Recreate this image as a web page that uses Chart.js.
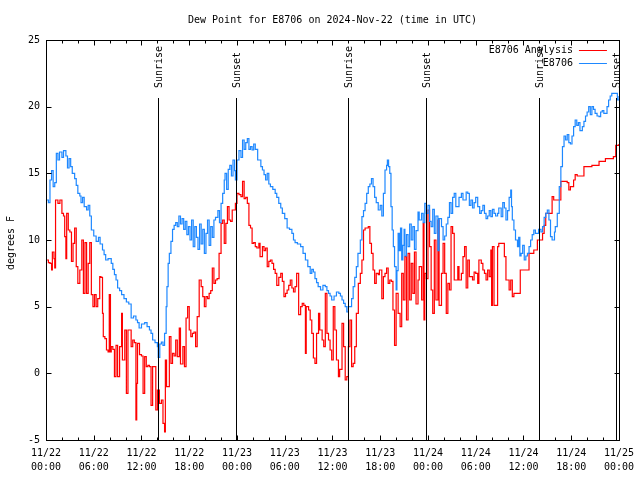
<!DOCTYPE html>
<html>
<head>
<meta charset="utf-8">
<title>Dew Point for E8706</title>
<script src="https://cdn.jsdelivr.net/npm/chart.js@4.4.1/dist/chart.umd.min.js"></script>
<style>
  body { margin: 0; background: #fff; }
  canvas { display: block; }
</style>
</head>
<body>
<canvas id="dewChart" width="640" height="480"></canvas>
<script>
const chartTitle = 'Dew Point for E8706 on 2024-Nov-22 (time in UTC)';
const yAxisTitle = 'degrees F';

// x values are hours since 11/22 00:00 UTC
const tickDates = ['11/22', '11/22', '11/22', '11/22', '11/23', '11/23', '11/23', '11/23', '11/24', '11/24', '11/24', '11/24', '11/25'];
const tickTimes = ['00:00', '06:00', '12:00', '18:00', '00:00', '06:00', '12:00', '18:00', '00:00', '06:00', '12:00', '18:00', '00:00'];

const sunHours = [14.04, 23.83, 38.0, 47.75, 62.0, 71.65];
const sunLabels = ['Sunrise', 'Sunset', 'Sunrise', 'Sunset', 'Sunrise', 'Sunset'];

const seriesLabels = ['E8706 Analysis', 'E8706'];
const seriesColors = ['#ff0000', '#1e88ff'];

const analysisHours = [
  0, 0.3, 0.5, 0.7, 0.8, 1.0, 1.1, 1.2, 1.5, 1.75, 2.0, 2.2, 2.35, 2.5, 2.6, 2.8, 3.0, 3.2, 3.4, 3.6,
  3.8, 4.0, 4.25, 4.5, 4.7, 4.9, 5.1, 5.3, 5.5, 5.7, 5.9, 6.1, 6.3, 6.5, 6.75, 6.9, 7.1, 7.2, 7.4, 7.6,
  7.8, 7.95, 8.1, 8.2, 8.4, 8.6, 8.8, 9.0, 9.25, 9.5, 9.6, 9.9, 10.1, 10.3, 10.5, 10.7, 10.9, 11.1, 11.3, 11.4,
  11.5, 11.75, 12.0, 12.2, 12.4, 12.6, 12.8, 13.0, 13.2, 13.4, 13.6, 13.8, 14.0, 14.25, 14.5, 14.7, 14.9, 15.0, 15.15, 15.3,
  15.5, 15.7, 15.9, 16.1, 16.3, 16.5, 16.75, 16.9, 17.2, 17.4, 17.6, 17.8, 18.0, 18.2, 18.4, 18.6, 18.8, 19.0, 19.25, 19.5,
  19.7, 19.9, 20.1, 20.3, 20.5, 20.7, 20.9, 21.1, 21.3, 21.5, 21.75, 22.0, 22.2, 22.4, 22.6, 22.8, 23.0, 23.2, 23.4, 23.6,
  23.8, 24.0, 24.25, 24.5, 24.7, 24.9, 25.1, 25.3, 25.5, 25.7, 25.9, 26.1, 26.3, 26.5, 26.75, 26.9, 27.2, 27.4, 27.6, 27.8,
  28.0, 28.2, 28.4, 28.6, 28.8, 29.0, 29.25, 29.5, 29.7, 29.9, 30.1, 30.3, 30.5, 30.7, 30.9, 31.1, 31.3, 31.5, 31.75, 32.0,
  32.2, 32.4, 32.6, 32.7, 33.0, 33.2, 33.4, 33.6, 33.8, 34.0, 34.25, 34.4, 34.7, 34.9, 35.1, 35.3, 35.5, 35.7, 35.9, 36.1,
  36.3, 36.5, 36.75, 36.9, 37.2, 37.4, 37.6, 37.8, 38.0, 38.2, 38.4, 38.6, 38.8, 39.0, 39.25, 39.5, 39.7, 39.9, 40.1, 40.3,
  40.5, 40.7, 40.9, 41.1, 41.3, 41.5, 41.75, 41.9, 42.2, 42.4, 42.6, 42.8, 43.0, 43.2, 43.4, 43.6, 43.8, 44.0, 44.25, 44.5,
  44.7, 44.9, 45.1, 45.3, 45.5, 45.7, 45.9, 46.1, 46.3, 46.5, 46.75, 46.9, 47.2, 47.4, 47.5, 47.6, 47.8, 48.0, 48.2, 48.4,
  48.6, 48.8, 49.0, 49.25, 49.4, 49.7, 49.9, 50.1, 50.3, 50.5, 50.7, 50.9, 51.1, 51.3, 51.5, 51.75, 51.9, 52.2, 52.4, 52.6,
  52.8, 53.0, 53.2, 53.4, 53.6, 53.8, 54.0, 54.25, 54.4, 54.7, 54.9, 55.1, 55.3, 55.5, 55.7, 55.9, 56.0, 56.1, 56.3, 56.5,
  56.75, 56.9, 57.4, 57.6, 57.8, 58.0, 58.2, 58.4, 58.6, 58.8, 59.25, 59.6, 60.1, 60.5, 60.7, 61.3, 61.75, 62.2, 62.4, 62.6,
  62.8, 63.2, 63.6, 63.8, 64.5, 64.7, 65.1, 65.5, 65.7, 65.9, 66.3, 66.5, 66.75, 67.4, 67.6, 68.6, 69.5, 70.3, 71.3, 71.6,
  72.0
];
const analysisValues = [
  8.5, 8.3, 8.25, 7.75, 9.1, 8.6, 7.9, 13.0, 12.75, 13.0, 12.0, 11.8, 10.25, 8.6, 12.0, 10.75, 10.6, 8.4, 9.75, 10.9,
  8.0, 6.75, 7.75, 10.0, 6.0, 9.8, 6.0, 8.25, 9.8, 5.9, 5.0, 5.9, 5.0, 5.6, 7.25, 7.2, 4.5, 2.75, 2.6, 1.75,
  1.6, 5.9, 1.6, 2.0, 1.8, -0.25, 2.1, -0.25, 2.0, 4.5, 1.0, 3.25, -1.5, 3.25, 3.25, 2.0, 2.5, 2.3, -3.5, -0.75,
  2.25, 1.4, 1.3, -1.5, 1.25, 0.5, 0.6, 0.5, -2.4, 0.5, 0.5, -2.75, -1.25, -2.25, -2.0, -3.75, -4.4, 1.0, -1.0, -1.0,
  2.75, 0.75, 1.5, 1.3, 2.5, 1.25, 3.4, 0.7, 2.0, 0.5, 4.15, 5.0, 3.25, 2.75, 3.0, 3.1, 2.0, 4.25, 7.0, 6.5,
  5.75, 5.0, 5.75, 5.6, 6.0, 6.2, 7.9, 6.75, 7.0, 7.1, 9.0, 11.25, 11.5, 9.75, 11.25, 12.5, 11.5, 11.4, 12.25, 12.25,
  12.75, 13.5, 13.4, 13.25, 14.4, 13.1, 13.2, 12.75, 11.1, 10.9, 9.75, 9.8, 9.5, 9.4, 9.75, 8.75, 9.5, 9.2, 9.4, 8.0,
  8.4, 8.5, 8.25, 7.8, 7.5, 6.6, 7.2, 7.5, 6.9, 5.75, 6.0, 6.25, 6.6, 7.0, 6.4, 6.1, 6.5, 7.5, 4.4, 5.0,
  5.25, 5.1, 1.5, 5.0, 4.75, 4.0, 3.0, 1.15, 0.75, 3.0, 4.5, 3.25, 2.5, 2.0, 6.0, 3.0, 2.5, 1.75, 1.0, 5.0,
  3.25, 1.0, -0.25, 0.3, 3.75, 2.0, -0.5, -0.25, 2.0, 4.0, 0.5, 0.75, 2.0, 4.5, 6.75, 7.5, 8.5, 10.75, 10.9, 10.9,
  11.0, 9.75, 9.0, 7.75, 6.75, 7.5, 7.4, 7.75, 5.6, 7.25, 7.5, 7.9, 6.75, 7.0, 6.9, 4.75, 2.1, 6.0, 4.5, 3.5,
  7.5, 5.5, 8.75, 4.0, 9.0, 5.5, 8.25, 6.0, 9.1, 5.2, 7.0, 8.0, 5.5, 11.25, 4.0, 7.5, 7.1, 12.25, 9.5, 6.25,
  4.5, 10.0, 5.5, 11.5, 5.1, 7.5, 9.75, 7.5, 4.5, 6.75, 6.25, 11.0, 10.5, 7.0, 7.0, 8.0, 7.0, 7.5, 8.75, 9.5,
  6.4, 8.5, 7.25, 7.25, 7.0, 7.6, 7.5, 6.75, 8.5, 8.25, 7.75, 7.5, 7.0, 7.75, 7.25, 9.25, 5.1, 9.5, 5.1, 5.1,
  9.5, 9.75, 9.75, 8.75, 7.0, 7.0, 6.25, 7.0, 5.75, 6.0, 6.0, 7.75, 7.75, 7.75, 9.0, 9.25, 10.0, 10.0, 10.5, 11.1,
  12.0, 12.0, 13.25, 13.0, 13.0, 14.4, 14.4, 14.3, 13.75, 14.0, 14.5, 14.9, 14.8, 14.8, 15.5, 15.6, 15.9, 16.1, 16.25, 17.1,
  17.2
];

const stationHours = [
  0, 0.3, 0.5, 0.7, 0.9, 1.1, 1.3, 1.5, 1.7, 2.0, 2.2, 2.5, 2.7, 2.9, 3.1, 3.3, 3.6, 3.8, 4.0, 4.25,
  4.4, 4.6, 4.8, 5.1, 5.3, 5.5, 5.7, 6.0, 6.3, 6.6, 6.8, 7.1, 7.3, 7.5, 7.8, 8.2, 8.4, 8.6, 8.8, 9.0,
  9.25, 9.5, 9.8, 10.1, 10.4, 10.7, 11.0, 11.3, 11.5, 11.7, 12.0, 12.4, 12.7, 13.0, 13.2, 13.4, 13.7, 14.0, 14.1, 14.3,
  14.5, 14.7, 14.9, 15.1, 15.2, 15.35, 15.5, 15.7, 15.9, 16.1, 16.3, 16.5, 16.7, 16.9, 17.1, 17.3, 17.5, 17.7, 17.9, 18.1,
  18.3, 18.5, 18.7, 18.9, 19.1, 19.3, 19.5, 19.7, 19.9, 20.1, 20.3, 20.5, 20.7, 20.9, 21.1, 21.3, 21.6, 21.8, 22.0, 22.2,
  22.4, 22.5, 22.7, 22.9, 23.1, 23.3, 23.5, 23.7, 23.8, 24.0, 24.25, 24.5, 24.7, 24.9, 25.1, 25.3, 25.5, 25.7, 25.9, 26.1,
  26.3, 26.6, 26.75, 27.0, 27.2, 27.4, 27.6, 27.8, 28.0, 28.2, 28.5, 28.8, 29.0, 29.25, 29.5, 29.7, 30.0, 30.3, 30.6, 30.9,
  31.1, 31.3, 31.6, 32.0, 32.3, 32.6, 32.9, 33.2, 33.4, 33.6, 33.8, 34.0, 34.2, 34.5, 34.8, 35.1, 35.3, 35.5, 35.7, 35.9,
  36.2, 36.5, 36.8, 37.0, 37.2, 37.4, 37.6, 37.8, 38.0, 38.2, 38.4, 38.6, 38.8, 39.0, 39.2, 39.5, 39.7, 39.9, 40.1, 40.3,
  40.5, 40.7, 40.9, 41.1, 41.3, 41.5, 41.75, 42.0, 42.2, 42.4, 42.6, 42.8, 42.9, 43.05, 43.2, 43.35, 43.5, 43.65, 43.8, 44.0,
  44.1, 44.25, 44.4, 44.55, 44.7, 44.85, 45.0, 45.1, 45.3, 45.5, 45.7, 45.9, 46.1, 46.3, 46.5, 46.75, 46.9, 47.2, 47.4, 47.6,
  47.8, 48.0, 48.2, 48.4, 48.6, 48.8, 49.0, 49.25, 49.4, 49.7, 49.9, 50.1, 50.3, 50.5, 50.7, 50.9, 51.1, 51.3, 51.5, 51.75,
  51.9, 52.2, 52.4, 52.6, 52.8, 53.0, 53.2, 53.4, 53.6, 53.8, 54.0, 54.25, 54.5, 54.7, 54.9, 55.1, 55.3, 55.5, 55.7, 55.9,
  56.1, 56.3, 56.5, 56.75, 56.9, 57.2, 57.4, 57.6, 57.8, 58.0, 58.2, 58.4, 58.5, 58.6, 58.8, 59.0, 59.25, 59.4, 59.55, 59.7,
  59.9, 60.1, 60.3, 60.5, 60.7, 60.9, 61.1, 61.3, 61.5, 61.75, 61.9, 62.2, 62.4, 62.6, 62.8, 63.0, 63.2, 63.4, 63.6, 63.75,
  63.9, 64.0, 64.25, 64.5, 64.7, 64.9, 65.1, 65.3, 65.5, 65.7, 65.9, 66.1, 66.3, 66.5, 66.7, 66.9, 67.1, 67.4, 67.6, 67.8,
  68.0, 68.2, 68.4, 68.6, 68.8, 69.0, 69.25, 69.5, 69.7, 69.9, 70.1, 70.3, 70.5, 70.7, 70.9, 71.1, 71.3, 71.5, 71.8, 72.0
];
const stationValues = [
  13.0, 12.8, 14.5, 15.2, 14.0, 14.3, 16.5, 16.0, 16.6, 16.2, 16.7, 16.3, 15.4, 16.1, 15.5, 15.0, 14.6, 14.1, 13.5, 13.3,
  12.8, 13.2, 12.5, 12.25, 12.6, 11.8, 10.75, 10.3, 9.9, 10.2, 9.7, 9.25, 8.9, 8.5, 8.6, 8.25, 7.8, 7.4, 7.0, 6.4,
  6.2, 5.9, 5.6, 5.35, 5.2, 4.15, 4.3, 4.0, 3.8, 3.4, 3.7, 3.8, 3.5, 3.25, 3.0, 2.5, 2.3, 2.0, 1.2, 2.2,
  2.35, 2.1, 3.0, 5.0, 6.5, 8.25, 9.0, 9.9, 10.8, 11.1, 11.3, 11.0, 11.8, 11.2, 11.6, 10.8, 11.4, 10.4, 11.0, 10.0,
  11.5, 9.5, 11.0, 10.2, 9.3, 11.2, 9.7, 10.8, 9.0, 10.5, 11.5, 9.6, 11.0, 10.2, 11.5, 11.7, 12.2, 11.3, 12.75, 13.5,
  14.5, 15.0, 13.8, 15.3, 15.6, 14.8, 16.0, 15.2, 14.5, 16.0, 16.7, 16.2, 17.5, 16.8, 17.3, 17.6, 16.8, 17.0, 16.75, 17.2,
  16.8, 16.0, 16.0, 15.5, 15.25, 14.9, 14.5, 15.0, 14.2, 14.0, 13.8, 13.5, 13.2, 12.75, 12.4, 12.0, 11.6, 10.9, 10.8, 10.5,
  10.0, 9.8, 9.7, 9.5, 9.0, 8.5, 8.0, 7.5, 7.8, 7.6, 7.1, 6.8, 6.5, 6.25, 6.6, 6.5, 6.2, 6.0, 5.8, 5.5,
  5.8, 6.1, 6.0, 5.8, 5.5, 5.25, 5.0, 4.6, 5.0, 5.0, 5.6, 6.5, 7.2, 8.0, 9.0, 10.0, 11.75, 12.2, 12.75, 13.5,
  14.0, 14.2, 14.6, 14.0, 13.2, 12.8, 12.25, 12.6, 11.8, 13.5, 15.25, 15.6, 16.0, 15.5, 15.0, 12.5, 10.75, 9.5, 8.0, 6.25,
  7.7, 10.5, 9.2, 10.9, 8.5, 9.6, 10.8, 8.8, 10.4, 9.5, 11.2, 10.0, 11.0, 9.3, 10.7, 12.1, 11.5, 12.0, 11.3, 12.75,
  12.0, 12.6, 11.4, 11.0, 12.3, 10.5, 11.8, 9.2, 11.6, 11.0, 10.0, 10.3, 11.2, 11.7, 12.8, 12.0, 13.2, 13.5, 12.5, 12.5,
  13.2, 13.5, 13.0, 13.0, 13.6, 13.5, 12.6, 13.0, 12.4, 12.8, 13.2, 12.5, 12.0, 12.2, 12.6, 12.0, 11.6, 11.8, 12.2, 11.75,
  12.3, 12.0, 11.8, 12.0, 12.4, 11.75, 12.8, 12.4, 11.5, 12.2, 13.2, 13.75, 12.5, 11.5, 10.75, 10.0, 9.5, 10.2, 8.8, 9.0,
  9.6, 8.5, 8.8, 9.0, 9.5, 10.0, 10.4, 10.75, 10.5, 10.5, 10.8, 10.6, 11.0, 11.7, 12.0, 12.25, 11.5, 10.25, 10.0, 10.0,
  10.6, 11.0, 12.0, 14.0, 15.5, 17.0, 17.8, 17.5, 17.9, 17.3, 17.2, 17.8, 18.5, 19.0, 18.6, 18.8, 18.2, 18.5, 18.9, 19.3,
  19.6, 20.0, 19.4, 20.0, 19.8, 19.5, 19.3, 19.25, 19.6, 19.7, 19.5, 19.5, 20.0, 20.5, 20.8, 21.0, 21.0, 21.0, 20.5, 20.8
];

const FONT = '10px "DejaVu Sans Mono", monospace';

function toPoints(hours, values) {
    return hours.map((h, i) => ({ x: h, y: values[i] }));
}

function crisp(v) {
    return Math.round(v) + 0.5;
}

// gnuplot-like decorations: frame, inward ticks, sun lines, legend, titles
const decorations = {
    id: 'decorations',
    afterDatasetsDraw(chart) {
        const { ctx, chartArea: a, scales: { x, y } } = chart;
        ctx.save();
        ctx.strokeStyle = '#000';
        ctx.fillStyle = '#000';
        ctx.lineWidth = 1;
        ctx.font = FONT;

        // sunrise / sunset markers, label reads upward from just above the line
        sunHours.forEach((h, i) => {
            const px = crisp(x.getPixelForValue(h));
            ctx.beginPath();
            ctx.moveTo(px, a.top + 58);
            ctx.lineTo(px, a.bottom);
            ctx.stroke();
            ctx.save();
            ctx.translate(px + 1, a.top + 48);
            ctx.rotate(-Math.PI / 2);
            ctx.textAlign = 'left';
            ctx.textBaseline = 'middle';
            ctx.fillText(sunLabels[i], 0, 0);
            ctx.restore();
        });

        // frame
        const l = crisp(a.left), r = crisp(a.right), t = crisp(a.top), b = crisp(a.bottom);
        ctx.strokeRect(l, t, r - l, b - t);

        // x ticks, major every 6 h, minor every 2 h
        ctx.beginPath();
        for (let h = 0; h <= 72; h += 2) {
            const len = h % 6 === 0 ? 5 : 3;
            const px = crisp(x.getPixelForValue(h));
            ctx.moveTo(px, b); ctx.lineTo(px, b - len);
            ctx.moveTo(px, t); ctx.lineTo(px, t + len);
        }
        y.ticks.forEach(tk => {
            const py = crisp(y.getPixelForValue(tk.value));
            ctx.moveTo(l, py); ctx.lineTo(l + 5, py);
            ctx.moveTo(r, py); ctx.lineTo(r - 5, py);
        });
        ctx.stroke();

        // legend, text right aligned with a line sample after it
        ctx.textAlign = 'right';
        ctx.textBaseline = 'middle';
        seriesLabels.forEach((label, i) => {
            const ly = a.top + 10 + i * 13;
            ctx.fillStyle = '#000';
            ctx.fillText(label, a.right - 46, ly);
            ctx.strokeStyle = seriesColors[i];
            ctx.beginPath();
            ctx.moveTo(a.right - 40, crisp(ly));
            ctx.lineTo(a.right - 12, crisp(ly));
            ctx.stroke();
        });

        // titles
        ctx.fillStyle = '#000';
        ctx.textAlign = 'center';
        ctx.fillText(chartTitle, (a.left + a.right) / 2, 20);
        ctx.save();
        ctx.translate(11, (a.top + a.bottom) / 2 + 3);
        ctx.rotate(-Math.PI / 2);
        ctx.fillText(yAxisTitle, 0, 0);
        ctx.restore();
        ctx.restore();
    }
};

Chart.defaults.font.family = '"DejaVu Sans Mono", monospace';
Chart.defaults.font.size = 10;
Chart.defaults.color = '#000';

const ctx = document.getElementById('dewChart').getContext('2d');
const dewChart = new Chart(ctx, {
    type: 'line',
    data: {
        datasets: [{
            label: seriesLabels[0],
            data: toPoints(analysisHours, analysisValues),
            borderColor: seriesColors[0],
            borderWidth: 1.2,
            stepped: true,
            pointRadius: 0,
            order: 2
        }, {
            label: seriesLabels[1],
            data: toPoints(stationHours, stationValues),
            borderColor: seriesColors[1],
            borderWidth: 1.2,
            stepped: true,
            pointRadius: 0,
            order: 1
        }]
    },
    options: {
        responsive: false,
        animation: false,
        layout: { padding: { top: 40, right: 18, left: 0, bottom: 0 } },
        plugins: {
            legend: { display: false },
            tooltip: { enabled: false },
            title: { display: false }
        },
        scales: {
            x: {
                type: 'linear',
                min: 0,
                max: 72,
                grid: { display: false, drawTicks: false },
                border: { display: false },
                afterFit(scale) { scale.height = 40; },
                ticks: {
                    stepSize: 6,
                    autoSkip: false,
                    maxRotation: 0,
                    padding: 6,
                    font: { size: 10, lineHeight: 1.4 },
                    callback: (v) => {
                        const i = Math.round(v / 6);
                        return [tickDates[i], tickTimes[i]];
                    }
                }
            },
            y: {
                min: -5,
                max: 25,
                grid: { display: false, drawTicks: false },
                border: { display: false },
                afterFit(scale) { scale.width = 46; },
                ticks: { stepSize: 5, padding: 6 }
            }
        }
    },
    plugins: [decorations]
});
</script>
</body>
</html>
